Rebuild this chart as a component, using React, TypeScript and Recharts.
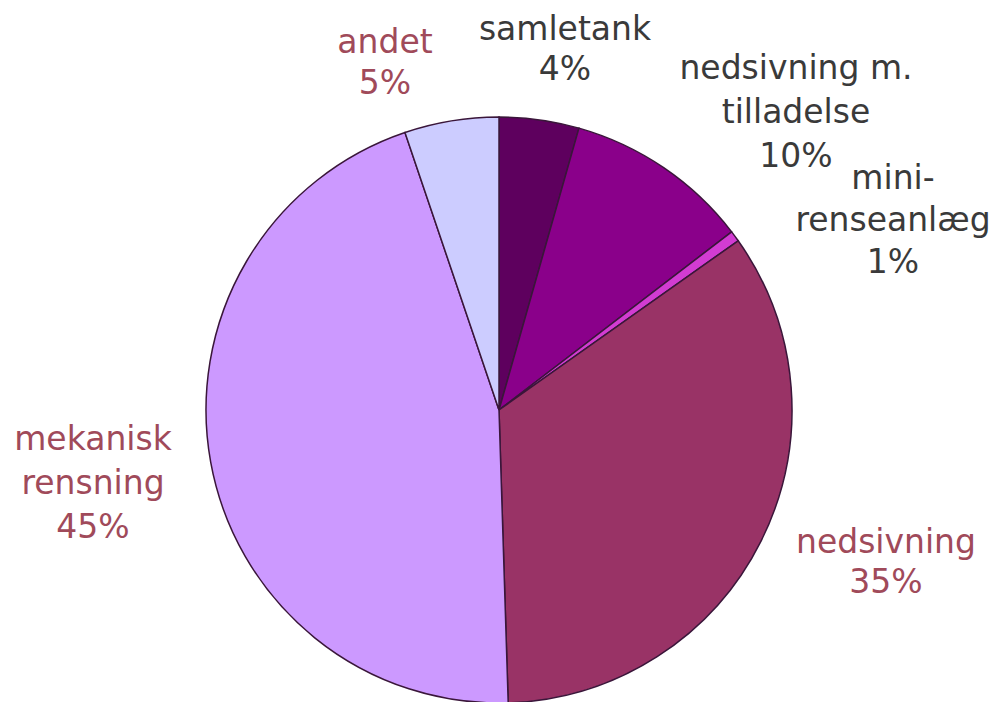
import React from "react";
import { PieChart, Pie, Cell } from "recharts";

// shares (clockwise from 12 o'clock)
const categories = [
  "samletank",
  "nedsivning m. tilladelse",
  "mini-renseanlæg",
  "nedsivning",
  "mekanisk rensning",
  "andet",
];
const shares = [4.4, 10.2, 0.6, 34.3, 45.3, 5.2];
const printedPct = ["4%", "10%", "1%", "35%", "45%", "5%"];
const labelLines = [
  ["samletank"],
  ["nedsivning m.", "tilladelse"],
  ["mini-", "renseanlæg"],
  ["nedsivning"],
  ["mekanisk", "rensning"],
  ["andet"],
];

const sliceColors = ["#5e005e", "#8a008a", "#d23cd2", "#993366", "#cc99ff", "#ccccff"];
const textColors = ["#3a3a3a", "#3a3a3a", "#3a3a3a", "#a04a5a", "#a04a5a", "#a04a5a"];

// label anchor: centre x and baseline of first line, plus line gap
const labelLayout = [
  { x: 565, y: 40, gap: 40 },
  { x: 796, y: 79, gap: 44 },
  { x: 893, y: 189, gap: 42 },
  { x: 886, y: 553, gap: 40 },
  { x: 93, y: 450, gap: 44 },
  { x: 385, y: 53, gap: 41 },
];

const data = categories.map((name, i) => ({ name, value: shares[i] }));

function renderLabel(props: any) {
  const i = props.index;
  const pos = labelLayout[i];
  const lines = [...labelLines[i], printedPct[i]];
  return (
    <text
      key={"lbl" + i}
      x={pos.x}
      y={pos.y}
      textAnchor="middle"
      fill={textColors[i]}
      fontFamily="DejaVu Sans, Verdana, sans-serif"
      fontSize={33}
    >
      {lines.map((ln, k) => (
        <tspan key={k} x={pos.x} y={pos.y + k * pos.gap}>
          {ln}
        </tspan>
      ))}
    </text>
  );
}

export default function App() {
  return (
    <div style={{ position: "absolute", left: 0, top: 0, width: 996, height: 702, background: "#fff" }}>
      <PieChart width={996} height={702} margin={{ top: 0, right: 0, bottom: 0, left: 0 }}>
        <Pie
          data={data}
          dataKey="value"
          nameKey="name"
          cx={499}
          cy={410}
          outerRadius={293}
          startAngle={90}
          endAngle={-270}
          stroke="#3a163a"
          strokeWidth={1.5}
          label={renderLabel}
          labelLine={false}
          isAnimationActive={false}
        >
          {data.map((d, i) => (
            <Cell key={d.name} fill={sliceColors[i]} />
          ))}
        </Pie>
      </PieChart>
    </div>
  );
}
